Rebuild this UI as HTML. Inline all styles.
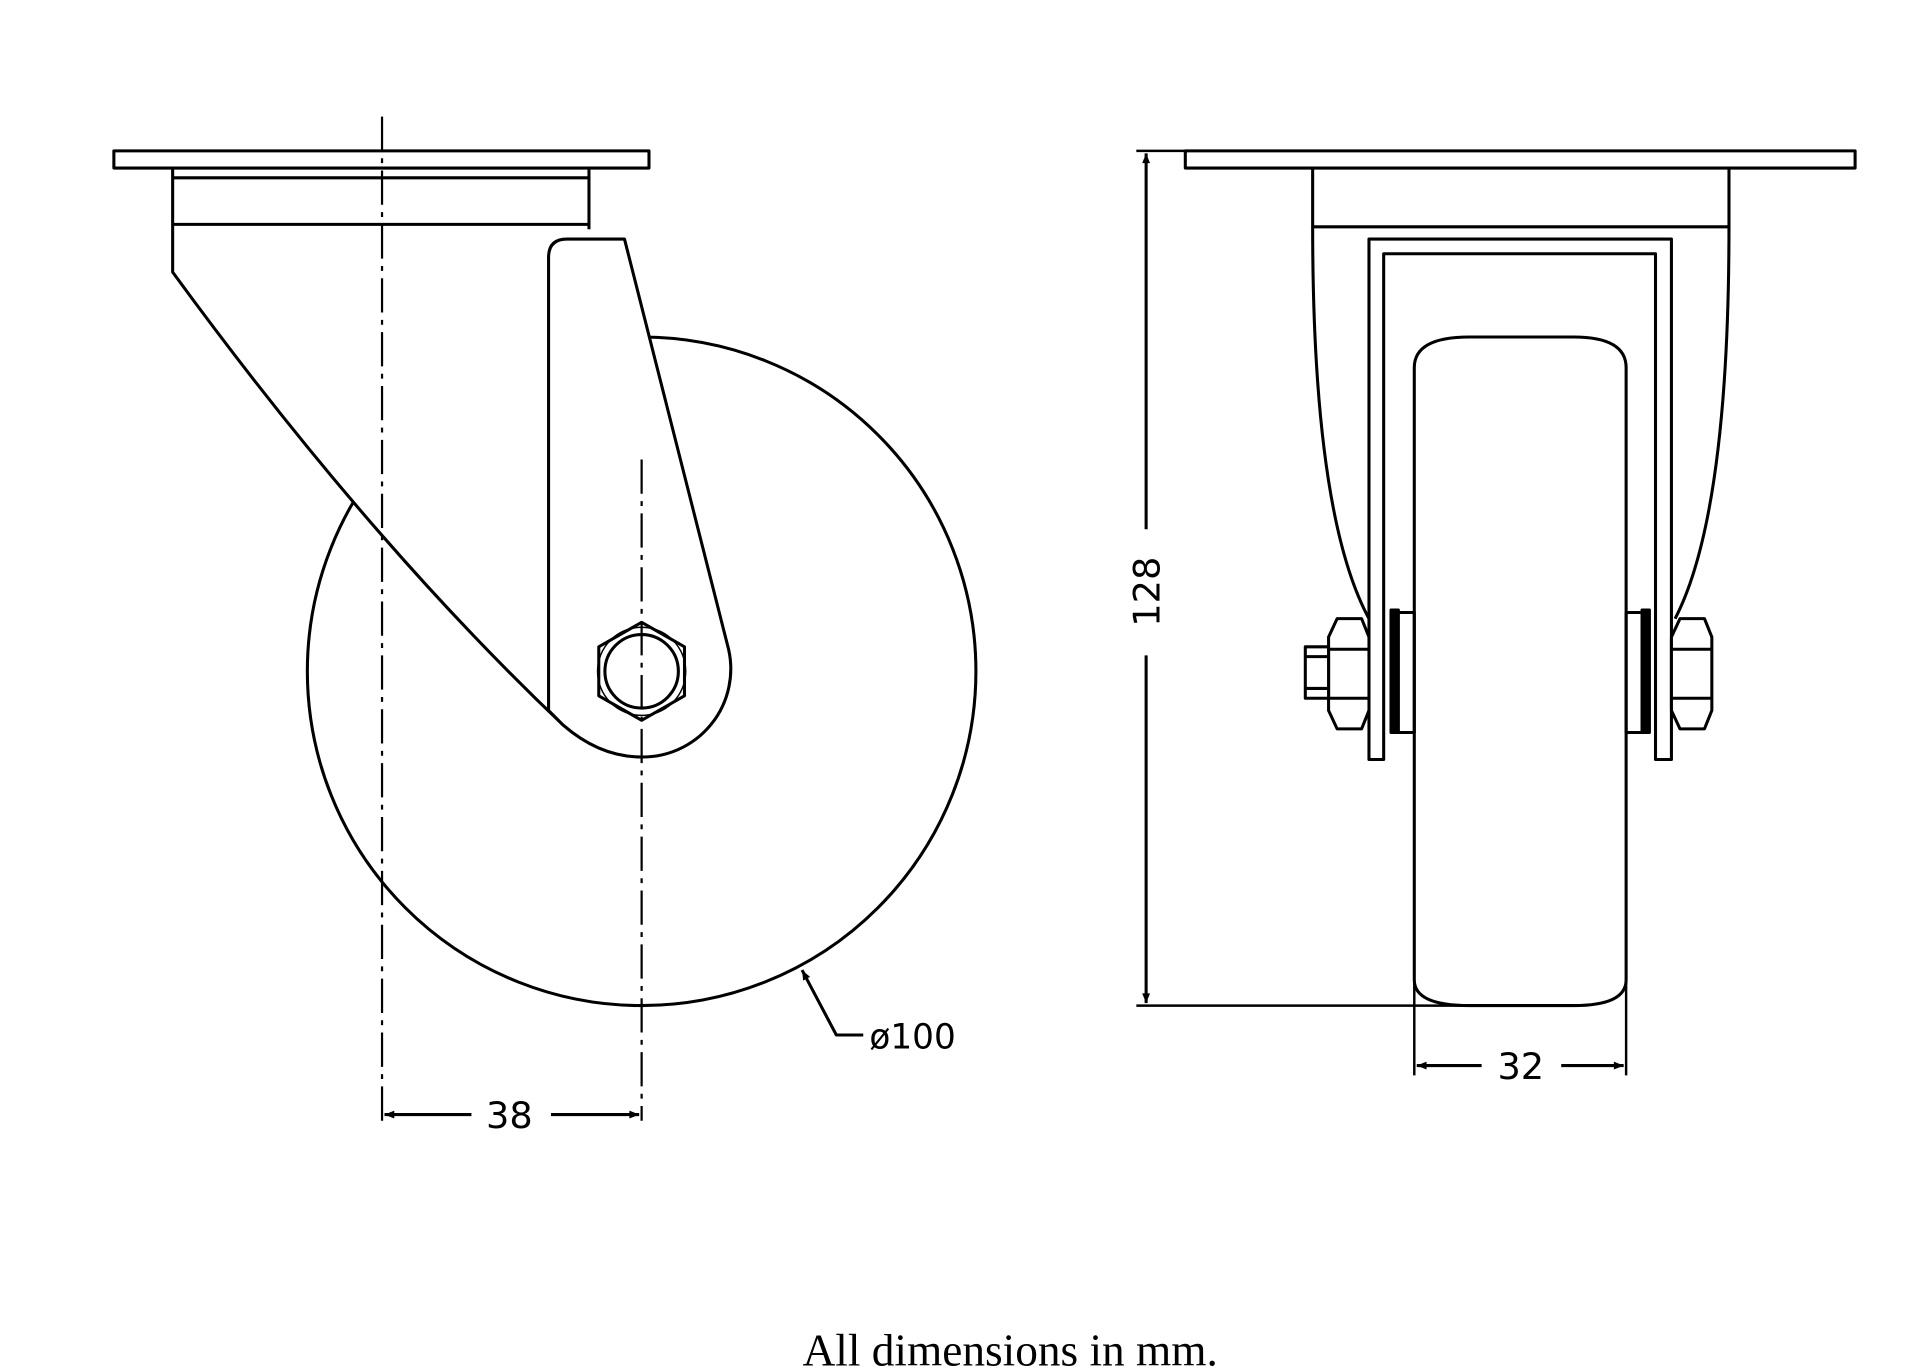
<!DOCTYPE html>
<html><head><meta charset="utf-8"><style>
html,body{margin:0;padding:0;background:#fff;}
svg{display:block;}
text{font-family:"DejaVu Sans","Liberation Sans",sans-serif;fill:#000;}
</style></head><body>
<svg width="1920" height="1372" viewBox="0 0 1568 1120" xmlns="http://www.w3.org/2000/svg">
<defs>
<marker id="ar" viewBox="0 0 10 10" refX="10" refY="5" markerWidth="12" markerHeight="8" markerUnits="userSpaceOnUse" orient="auto-start-reverse"><path d="M0,1 L10,5 L0,9 Z" fill="#000"/></marker>
</defs>
<g fill="none" stroke="#000" stroke-width="2.5" stroke-linejoin="round">
<!-- LEFT VIEW -->
<circle cx="524" cy="548" r="273" fill="#fff"/>
<path d="M141,139 H481 V187 H448 V580 L460,592 Q300,440 141,222 Z" fill="#fff" stroke="none"/>
<rect x="93" y="123" width="437" height="14"/>
<path d="M141,137 V222 Q300,440 460,592"/>
<path d="M481,137 V187"/>
<path d="M141,145 H481 M141,183 H481"/>
<path d="M448,210 Q448,195 463,195 H510 L595,530 A72,72 0 0 1 524,618 Q490,618 460,592 L448,580 Z" fill="#fff"/>
<polygon points="524,508 559,528 559,568 524,588 489,568 489,528"/>
<circle cx="524" cy="548" r="30"/>
<circle cx="524" cy="548" r="36" stroke-width="1.2"/>
<path d="M312,95 V915" stroke-width="1.8" stroke-dasharray="28,6,4,6"/>
<path d="M524,375 V915" stroke-width="1.8" stroke-dasharray="28,6,4,6"/>
<path d="M385,910 H314" marker-end="url(#ar)"/>
<path d="M450,910 H522" marker-end="url(#ar)"/>
<path d="M705,845 H683 L655,792" marker-end="url(#ar)"/>

<!-- RIGHT VIEW -->
<rect x="968" y="123" width="547" height="14"/>
<path d="M1072,137 V185 H1412 V137"/>
<path d="M1072,185 Q1072,420 1118,505 M1412,185 Q1412,420 1368,505"/>
<path d="M1118,620 V195 H1365 V620 H1352 V207 H1130 V620 Z" fill="#fff"/>
<path d="M1155,300 Q1155,275 1200,275 H1285 Q1328,275 1328,300 V800 Q1328,821 1285,821 H1200 Q1155,821 1155,800 Z" fill="#fff"/>
<rect x="1140" y="500" width="15" height="98"/>
<rect x="1328" y="500" width="15" height="98"/>
<rect x="1136" y="498" width="6" height="100" fill="#000"/>
<rect x="1341" y="498" width="6" height="100" fill="#000"/>
<polygon points="1092,505 1112,505 1118,520 1118,580 1112,595 1092,595 1085,580 1085,520" fill="#fff"/>
<path d="M1085,530 H1118 M1085,570 H1118"/>
<rect x="1066" y="528" width="19" height="42" fill="#fff"/>
<path d="M1066,536 H1085 M1066,562 H1085"/>
<polygon points="1372,505 1392,505 1398,520 1398,580 1392,595 1372,595 1365,580 1365,520" fill="#fff"/>
<path d="M1365,530 H1398 M1365,570 H1398"/>
<path d="M928,123 H968 M928,821 H1230" stroke-width="2"/>
<path d="M936,432 V125" marker-end="url(#ar)"/>
<path d="M936,535 V819" marker-end="url(#ar)"/>
<path d="M1155,800 V878 M1328,800 V878" stroke-width="2"/>
<path d="M1210,870 H1157" marker-end="url(#ar)"/>
<path d="M1275,870 H1326" marker-end="url(#ar)"/>
</g>
<text x="416" y="921" font-size="30" text-anchor="middle">38</text>
<text x="710" y="856" font-size="28">ø100</text>
<text x="1242" y="881" font-size="30" text-anchor="middle">32</text>
<text transform="translate(947,483) rotate(-90)" font-size="30" text-anchor="middle">128</text>
<text x="825" y="1115" font-size="37" text-anchor="middle" style="font-family:'Liberation Serif',serif">All dimensions in mm.</text>
</svg>
</body></html>
